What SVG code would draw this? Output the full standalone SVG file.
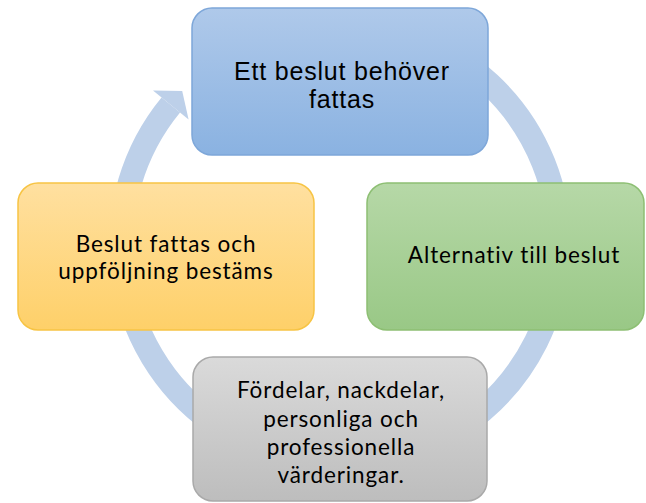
<svg xmlns="http://www.w3.org/2000/svg" width="646" height="503" viewBox="0 0 646 503">
  <defs>
    <linearGradient id="gBlue" x1="0" y1="0" x2="0" y2="1">
      <stop offset="0" stop-color="#afc9ea"/>
      <stop offset="1" stop-color="#8ab2e1"/>
    </linearGradient>
    <linearGradient id="gGreen" x1="0" y1="0" x2="0" y2="1">
      <stop offset="0" stop-color="#b6d8a7"/>
      <stop offset="1" stop-color="#99c886"/>
    </linearGradient>
    <linearGradient id="gOrange" x1="0" y1="0" x2="0" y2="1">
      <stop offset="0" stop-color="#ffe0a0"/>
      <stop offset="1" stop-color="#fed069"/>
    </linearGradient>
    <linearGradient id="gGray" x1="0" y1="0" x2="0" y2="1">
      <stop offset="0" stop-color="#dadada"/>
      <stop offset="1" stop-color="#bdbdbd"/>
    </linearGradient>
  </defs>
  <style>
    .box { stroke-width: 1.5; }
    .t1 { font-family: "Liberation Sans", Arial, sans-serif; font-size: 25px; letter-spacing: 0.8px; fill: #000; text-anchor: middle; }
    .t2 { font-family: Lato, "Liberation Sans", sans-serif; font-size: 22.5px; letter-spacing: 0.9px; fill: #000; text-anchor: middle; }
    .ring { fill: none; stroke: #bdd0e9; stroke-width: 24; }
    .head { fill: #bdd0e9; }
  </style>
  <rect width="646" height="503" fill="#ffffff"/>
  <g id="connectors">
    <path class="ring" d="M 414.9 38.2 A 219 219 0 1 1 170.8 105"/>
    <polygon class="head" points="153,90.4 182.2,91.1 188.6,119.6"/>
  </g>
  <g id="node-top">
    <rect class="box" x="192" y="8" width="296" height="147" rx="20" fill="url(#gBlue)" stroke="#7ea7d9"/>
    <text class="t1" x="342" y="80">Ett beslut behöver</text>
    <text class="t1" x="342" y="108">fattas</text>
  </g>
  <g id="node-right">
    <rect class="box" x="367" y="183" width="277" height="147" rx="20" fill="url(#gGreen)" stroke="#8dbf73"/>
    <text class="t2" x="514" y="263">Alternativ till beslut</text>
  </g>
  <g id="node-bottom">
    <rect class="box" x="193" y="357" width="294" height="144" rx="20" fill="url(#gGray)" stroke="#a9a9a9"/>
    <text class="t2" x="341" y="398">Fördelar, nackdelar,</text>
    <text class="t2" x="341" y="426.5">personliga och</text>
    <text class="t2" x="341" y="455">professionella</text>
    <text class="t2" x="341" y="483">värderingar.</text>
  </g>
  <g id="node-left">
    <rect class="box" x="18" y="183" width="296" height="147" rx="20" fill="url(#gOrange)" stroke="#f7c444"/>
    <text class="t2" x="166" y="252">Beslut fattas och</text>
    <text class="t2" x="166" y="279">uppföljning bestäms</text>
  </g>
</svg>
